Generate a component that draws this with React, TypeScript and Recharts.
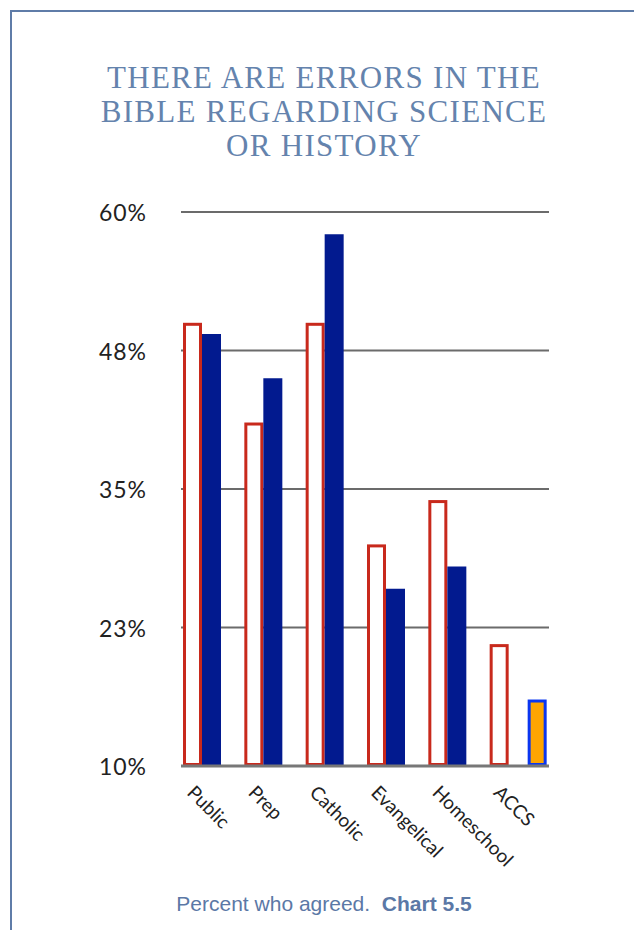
import { BarChart, Bar, XAxis, YAxis, CartesianGrid } from "recharts";

const categories = ["Public", "Prep", "Catholic", "Evangelical", "Homeschool", "ACCS"];
const redValues = [50, 41, 50, 30, 34, 21];
const blueValues = [49, 45, 58, 26, 28, null];
const orangeValues = [null, null, null, null, null, 16];
const yTicks = [10, 22.5, 35, 47.5, 60];
const yTickLabels = ["10%", "23%", "35%", "48%", "60%"];
const titleLines = ["THERE ARE ERRORS IN THE", "BIBLE REGARDING SCIENCE", "OR HISTORY"];

const data = categories.map((name, i) => ({
  name,
  red: redValues[i],
  blue: blueValues[i],
  orange: orangeValues[i],
}));

const outlined = (fill: string, stroke: string) => (props: any) => {
  const { x, y, width, height } = props;
  if (!height || height <= 0) return <g />;
  return (
    <rect
      x={x + 1.5}
      y={y + 1.5}
      width={Math.max(width - 3, 0)}
      height={Math.max(height - 3, 0)}
      fill={fill}
      stroke={stroke}
      strokeWidth={3}
    />
  );
};

const XTick = (props: any) => {
  const { x, y, payload } = props;
  const tx = x - 15;
  const ty = y + 9;
  return (
    <text
      x={tx}
      y={ty}
      transform={`rotate(45, ${tx}, ${ty})`}
      textAnchor="start"
      dominantBaseline="hanging"
      fontFamily="Lato, sans-serif"
      fontSize={19}
      fill="#222"
    >
      {payload.value}
    </text>
  );
};

const YTick = (props: any) => {
  const { y, index } = props;
  return (
    <text
      x={147}
      y={y}
      textAnchor="end"
      dominantBaseline="central"
      fontFamily="Lato, sans-serif"
      fontSize={23}
      letterSpacing={1}
      fill="#222"
    >
      {yTickLabels[index]}
    </text>
  );
};

export default function App() {
  return (
    <div
      style={{
        position: "absolute",
        left: 0,
        top: 0,
        width: 634,
        height: 930,
        background: "#fff",
        overflow: "hidden",
      }}
    >
      <div
        style={{
          position: "absolute",
          left: 10,
          top: 10,
          width: 640,
          height: 940,
          borderLeft: "2.5px solid #5f7ca8",
          borderTop: "2.5px solid #5f7ca8",
        }}
      />
      {titleLines.map((t, i) => (
        <div
          key={t}
          style={{
            position: "absolute",
            left: 0,
            width: 648,
            top: 61 + i * 34,
            textAlign: "center",
            fontFamily: "'Liberation Serif', serif",
            fontSize: 31,
            lineHeight: "34px",
            letterSpacing: 1.3,
            color: "#6483ad",
          }}
        >
          {t}
        </div>
      ))}
      <div style={{ position: "absolute", left: 0, top: 0 }}>
        <BarChart
          width={634}
          height={880}
          data={data}
          margin={{ top: 212, right: 85, left: 0, bottom: 54 }}
          barCategoryGap={2}
          barGap={0}
        >
          <CartesianGrid vertical={false} stroke="#6b6b6b" strokeWidth={2} />
          <XAxis
            dataKey="name"
            height={60}
            tick={<XTick />}
            tickLine={false}
            axisLine={{ stroke: "#777", strokeWidth: 3 }}
            interval={0}
          />
          <YAxis
            width={181}
            domain={[10, 60]}
            ticks={yTicks}
            tick={<YTick />}
            tickLine={false}
            axisLine={false}
            allowDataOverflow
          />
          <Bar dataKey="red" isAnimationActive={false} shape={outlined("#fff", "#c8291c")} />
          <Bar dataKey="blue" isAnimationActive={false} fill="#021a8f" />
          <Bar dataKey="orange" isAnimationActive={false} shape={outlined("#ffa500", "#0a36f0")} />
        </BarChart>
      </div>
      <div
        style={{
          position: "absolute",
          left: 0,
          width: 648,
          top: 892,
          textAlign: "center",
          fontFamily: "'Liberation Sans', Arial, sans-serif",
          fontSize: 21,
          color: "#5b78a6",
          whiteSpace: "pre",
        }}
      >
        {"Percent who agreed.  "}
        <b>Chart 5.5</b>
      </div>
    </div>
  );
}
